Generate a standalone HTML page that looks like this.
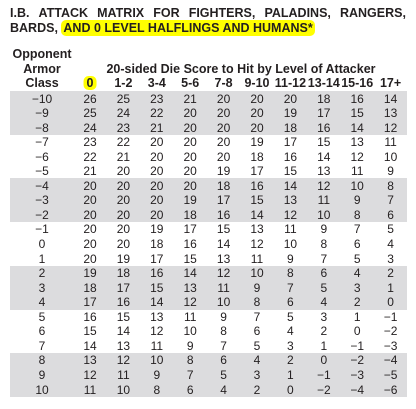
<!DOCTYPE html>
<html><head><meta charset="utf-8"><style>
body{margin:0;width:416px;height:409px;background:#fff;position:relative;overflow:hidden;font-family:"Liberation Sans",sans-serif;color:#231f20}
.t{position:absolute;font-weight:bold;font-size:12.5px;white-space:nowrap}
.h{position:absolute;font-weight:bold;font-size:12.5px;white-space:nowrap;transform:translateX(-50%)}
.c{position:absolute;font-size:12px;white-space:nowrap;transform:translateX(-50%)}
.band{position:absolute;left:10px;width:397px;background:#dcdcde}
</style></head><body>
<div class="t" style="left:10px;top:6px;width:396px;display:flex;justify-content:space-between"><span>I.B.</span><span>ATTACK</span><span>MATRIX</span><span>FOR</span><span>FIGHTERS,</span><span>PALADINS,</span><span>RANGERS,</span></div>
<div class="t" style="left:10px;top:21px">BARDS, <span style="background:#ffff00;border-radius:5px;padding:1px 2px">AND 0 LEVEL HALFLINGS AND HUMANS*</span></div>
<div class="h" style="left:42px;top:47px">Opponent</div>
<div class="h" style="left:42px;top:62px">Armor</div>
<div class="h" style="left:42px;top:76px">Class</div>
<div class="h" style="left:241px;top:62px">20-sided Die Score to Hit by Level of Attacker</div>
<div id="tbl"></div>
<script>
const levels=["0","1-2","3-4","5-6","7-8","9-10","11-12","13-14","15-16","17+"];
const armorClasses=["\u221210","\u22129","\u22128","\u22127","\u22126","\u22125","\u22124","\u22123","\u22122","\u22121","0","1","2","3","4","5","6","7","8","9","10"];
const scores=[
[26,25,23,21,20,20,20,18,16,14],
[25,24,22,20,20,20,19,17,15,13],
[24,23,21,20,20,20,18,16,14,12],
[23,22,20,20,20,19,17,15,13,11],
[22,21,20,20,20,18,16,14,12,10],
[21,20,20,20,19,17,15,13,11,9],
[20,20,20,20,18,16,14,12,10,8],
[20,20,20,19,17,15,13,11,9,7],
[20,20,20,18,16,14,12,10,8,6],
[20,20,19,17,15,13,11,9,7,5],
[20,20,18,16,14,12,10,8,6,4],
[20,19,17,15,13,11,9,7,5,3],
[19,18,16,14,12,10,8,6,4,2],
[18,17,15,13,11,9,7,5,3,1],
[17,16,14,12,10,8,6,4,2,0],
[16,15,13,11,9,7,5,3,1,-1],
[15,14,12,10,8,6,4,2,0,-2],
[14,13,11,9,7,5,3,1,-1,-3],
[13,12,10,8,6,4,2,0,-2,-4],
[12,11,9,7,5,3,1,-1,-3,-5],
[11,10,8,6,4,2,0,-2,-4,-6]];
const tbl=document.getElementById('tbl');
const colX=i=>90+i*33.4, rowY=r=>91+r*14.55;
[0,6,12,18].forEach(r=>{const b=document.createElement('div');b.className='band';


b.style.top=rowY(r)+'px';b.style.height=(14.55*3+0.5)+'px';tbl.appendChild(b);});
levels.forEach((l,i)=>{const d=document.createElement('div');d.className='h';


d.style.left=colX(i)+'px';d.style.top='76px';
if(i===0){d.innerHTML='<span style="background:#ffff00;border-radius:5px;padding:0 3px">0</span>';}else d.textContent=l;
tbl.appendChild(d);});
armorClasses.forEach((ac,r)=>{const y=rowY(r)+0.5;
const a=document.createElement('div');a.className='c';


a.style.left='42px';a.style.top=y+'px';a.textContent=ac;tbl.appendChild(a);
scores[r].forEach((v,i)=>{const c=document.createElement('div');c.className='c';


c.style.left=colX(i)+'px';c.style.top=y+'px';c.textContent=v<0?'\u2212'+(-v):v;tbl.appendChild(c);});});
</script>
</body></html>
